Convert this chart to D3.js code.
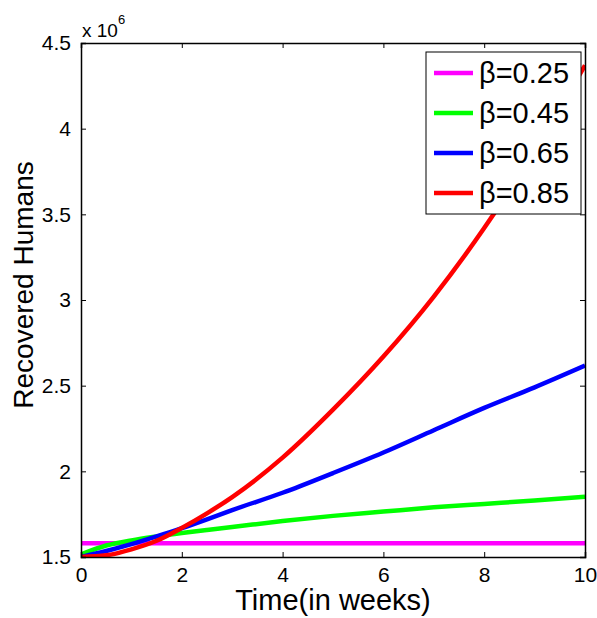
<!DOCTYPE html>
<html lang="en">
<head>
<meta charset="UTF-8">
<title>Recovered Humans</title>
<script src="https://cdn.jsdelivr.net/npm/d3@7"></script>
<style>
  body, html { margin: 0; background: #fff; font-family: "Liberation Sans", Arial, sans-serif; }
  svg { display: block; }
</style>
</head>
<body>
<svg width="597" height="618"></svg>
<script>
(function(){
  // time in weeks
  const weeks = [0, 0.5, 1, 1.5, 2, 2.5, 3, 4, 5, 6, 7, 8, 9, 10];
  // recovered humans, in millions (x 10^6)
  const b025 = [1.58, 1.58, 1.58, 1.58, 1.58, 1.58, 1.58, 1.58, 1.58, 1.58, 1.58, 1.58, 1.58, 1.58];
  const b045 = [1.515, 1.567, 1.597, 1.62, 1.64, 1.658, 1.675, 1.71, 1.74, 1.765, 1.79, 1.81, 1.83, 1.852];
  const b065 = [1.50, 1.535, 1.575, 1.62, 1.668, 1.72, 1.774, 1.875, 1.99, 2.11, 2.24, 2.37, 2.49, 2.617];
  const b085 = [1.50, 1.51, 1.545, 1.595, 1.67, 1.755, 1.85, 2.08, 2.36, 2.67, 3.02, 3.42, 3.87, 4.37];
  const seriesNames = ["β=0.25", "β=0.45", "β=0.65", "β=0.85"];
  const seriesColors = ["#ff00ff", "#00ff00", "#0000ff", "#ff0000"];
  const xTicks = [0, 2, 4, 6, 8, 10];
  const yTicks = [1.5, 2, 2.5, 3, 3.5, 4, 4.5];

  const series = [b025, b045, b065, b085].map((vals, i) => ({
    name: seriesNames[i], color: seriesColors[i],
    pts: vals.map((v, j) => [weeks[j], v])
  }));

  const m = {left: 81, right: 585, top: 43, bottom: 557};
  const x = d3.scaleLinear().domain([0, 10]).range([m.left, m.right]);
  const y = d3.scaleLinear().domain([1.5, 4.5]).range([m.bottom, m.top]);
  const svg = d3.select('svg');

  svg.append('clipPath').attr('id', 'plot')
    .append('rect').attr('x', m.left).attr('y', m.top)
    .attr('width', m.right - m.left).attr('height', m.bottom - m.top);

  const line = d3.line().x(d => x(d[0])).y(d => y(d[1])).curve(d3.curveMonotoneX);
  svg.append('g').attr('clip-path', 'url(#plot)')
    .selectAll('path').data(series).enter().append('path')
      .attr('d', d => line(d.pts))
      .attr('fill', 'none').attr('stroke', d => d.color)
      .attr('stroke-width', 4.5).attr('stroke-linejoin', 'round');

  // axes, MATLAB style box with inward ticks on all sides
  const tl = 5;
  const axB = svg.append('g').attr('transform', `translate(0,${m.bottom})`)
    .call(d3.axisBottom(x).tickValues(xTicks).tickSize(-tl).tickPadding(10).tickFormat(d3.format('d')));
  const axT = svg.append('g').attr('transform', `translate(0,${m.top})`)
    .call(d3.axisTop(x).tickValues(xTicks).tickSize(-tl).tickFormat(''));
  const axL = svg.append('g').attr('transform', `translate(${m.left},0)`)
    .call(d3.axisLeft(y).tickValues(yTicks).tickSize(-tl).tickPadding(10).tickFormat(d => String(d)));
  const axR = svg.append('g').attr('transform', `translate(${m.right},0)`)
    .call(d3.axisRight(y).tickValues(yTicks).tickSize(-tl).tickFormat(''));
  [axB, axT, axL, axR].forEach(a => {
    a.select('.domain').attr('stroke', '#000').attr('stroke-width', 1.5);
    a.selectAll('.tick line').attr('stroke', '#000');
    a.selectAll('text').attr('fill', '#000').style('font-size', '21px')
      .style('font-family', '"Liberation Sans", Arial, sans-serif');
  });

  // exponent label
  const ex = svg.append('text').attr('x', 82).attr('y', 37)
    .style('font-size', '19px').attr('fill', '#000');
  ex.append('tspan').text('x 10');
  ex.append('tspan').attr('dy', -13).style('font-size', '13px').text('6');

  svg.append('text').attr('x', 333).attr('y', 610).attr('text-anchor', 'middle')
    .style('font-size', '29px').attr('fill', '#000').text('Time(in weeks)');
  svg.append('text').attr('transform', 'translate(33,285) rotate(-90)').attr('text-anchor', 'middle')
    .style('font-size', '28px').attr('fill', '#000').text('Recovered Humans');

  // legend
  const lg = svg.append('g').attr('transform', 'translate(426,52)');
  lg.append('rect').attr('width', 155).attr('height', 162)
    .attr('fill', '#fff').attr('stroke', '#000').attr('stroke-width', 1);
  const item = lg.selectAll('g.item').data(series).enter().append('g')
    .attr('transform', (d, i) => `translate(0,${21 + i * 40})`);
  item.append('line').attr('x1', 8).attr('x2', 47)
    .attr('stroke', d => d.color).attr('stroke-width', 4.5);
  item.append('text').attr('x', 53).attr('dy', '0.36em')
    .style('font-size', '29px').attr('fill', '#000').text(d => d.name);
})();
</script>
</body>
</html>
